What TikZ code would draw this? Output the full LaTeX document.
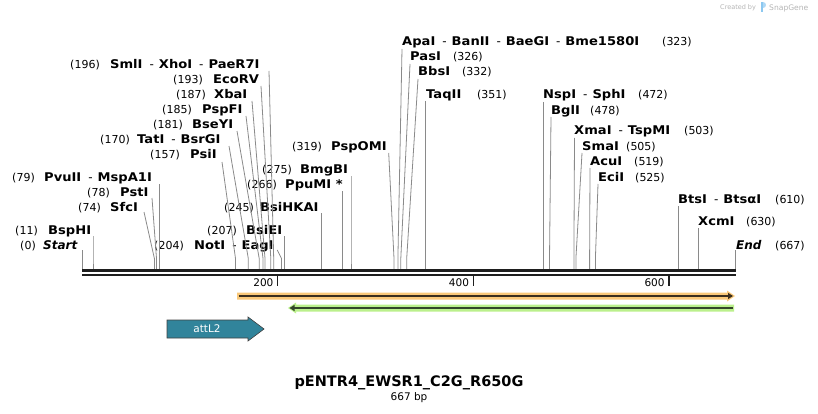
\documentclass[tikz,border=0pt]{standalone}
\usepackage{fontspec}
\setmainfont{DejaVu Sans}[BoldFeatures={FakeStretch=1.09}]
\newfontfamily\titlefont{DejaVu Sans}
\usetikzlibrary{arrows.meta}
\definecolor{leadgray}{HTML}{8A8A8A}
\definecolor{barblack}{HTML}{1E1E1E}
\definecolor{orangeband}{HTML}{F9C87A}
\definecolor{orangeline}{HTML}{3A2E1E}
\definecolor{greenband}{HTML}{BBF08C}
\definecolor{greenline}{HTML}{34452A}
\definecolor{featteal}{HTML}{31849B}
\definecolor{logogray}{HTML}{B4B4B4}
\definecolor{logoblue}{HTML}{8CC8F0}
\newcommand\dsep{\hspace{7pt}{\mdseries -}\hspace{5pt}}
\begin{document}
\begin{tikzpicture}[x=1pt,y=-1pt,
  numtxt/.style={font=\fontsize{11}{13}\selectfont, inner sep=0pt},
  nametxt/.style={font=\fontsize{12}{14}\selectfont\bfseries, inner sep=0pt},
  lead/.style={draw=leadgray, line width=0.8pt},
  barline/.style={draw=barblack, line width=2.4pt},
  tickmark/.style={draw=barblack, line width=1.4pt},
  ticktxt/.style={font=\fontsize{10.5}{12}\selectfont, inner sep=0pt, anchor=base east}]
\useasboundingbox (0,0) rectangle (818,414);
% logo
\node[font=\fontsize{6.5}{8}\selectfont, text=logogray, inner sep=0pt, anchor=base west] (cby) at (720,10) {Created by};
\fill[logoblue] (760.5,2.5) rectangle (763.2,12.5);
\fill[logoblue!70] (763.2,2.5) .. controls (767,2.5) and (767,8) .. (763.2,8) -- cycle;
\node[font=\fontsize{7.6}{9}\selectfont, text=logogray, inner sep=0pt, anchor=base west] (sg) at (769,10.5) {SnapGene};
% left-side labels: number right x / number / name left x / name / y
\foreach \nr/\nm/\nl/\na/\yy [count=\i] in {
  100/196/110/SmlI\dsep XhoI\dsep PaeR7I/65,
  203/193/213/EcoRV/80,
  206/187/214/XbaI/95,
  192/185/202/PspFI/110,
  183/181/192/BseYI/125,
  130/170/137/TatI\dsep BsrGI/140,
  180/157/190/PsiI/155,
  35/79/44/PvuII\dsep MspA1I/177,
  110/78/120/PstI/192,
  101/74/110/SfcI/207,
  38/11/48/BspHI/230,
  36/0/43/\textit{Start}/245,
  184/204/194/NotI\dsep EagI/245,
  237/207/246/BsiEI/230,
  254/245/260/BsiHKAI/207,
  277/266/285/PpuMI */184,
  292/275/300/BmgBI/170,
  322/319/331/PspOMI/147}{
  \node[numtxt, anchor=base east] (ln\i) at (\nr,\yy+4) {(\nm)};
  \node[nametxt, anchor=base west] (la\i) at (\nl,\yy+4) {\na};
}
% right-side labels: name left x / name / number left x / number / y
\foreach \nl/\na/\nr/\nm/\yy [count=\i] in {
  402/ApaI\dsep BanII\dsep BaeGI\dsep Bme1580I/662/323/42,
  410/PasI/453/326/57,
  418/BbsI/462/332/72,
  426/TaqII/477/351/95,
  543/NspI\dsep SphI/638/472/95,
  551/BglI/590/478/111,
  574/XmaI\dsep TspMI/684/503/131,
  582/SmaI/626/505/147,
  590/AcuI/634/519/162,
  598/EciI/635/525/177,
  678/BtsI\dsep BtsαI/775/610/199,
  698/XcmI/746/630/221,
  736/\textit{End}/775/667/245}{
  \node[nametxt, anchor=base west] (ra\i) at (\nl,\yy+4) {\na};
  \node[numtxt, anchor=base west] (rn\i) at (\nr,\yy+4) {(\nm)};
}
% leader lines: id / top x / top y / bottom x
\foreach \id/\tx/\ty/\bx in {
  0/82.5/250/82.5, 11/93/236/93, 74/144/212/154.4, 78/152/198/156.5,
  79/159.3/184/159.3, 157/222/162/235.5, 170/229/146/248.3, 181/237/131/259.2,
  185/246/116/263, 187/252/101/265, 193/261/86/270.8, 196/269/71/273.7,
  204/277.3/250/281.5, 207/284.4/236/284.4, 245/321.6/213/321.6,
  266/342.1/191/342.1, 275/351/176/351, 319/388.7/153/394,
  323/402/49/397.9, 326/410/64/400.8, 332/418/79/406.7, 351/425.3/101/425.3,
  472/543.6/102/543.6, 478/551/117/549.5, 503/574.5/138/573.9, 505/582/153/575.9,
  519/590/168/589.6, 525/598/184/595.4, 610/678.6/206/678.6, 630/698.1/228/698.1,
  667/735/250/735}{
  \coordinate (t\id) at (\tx,\ty);
  \coordinate (k\id) at (\bx,258.5);
  \coordinate (s\id) at (\bx,269.5);
  \draw[lead] (t\id) -- (k\id) -- (s\id);
}
% backbone
\coordinate (barL) at (82,270.6);
\coordinate (barR) at (736,270.6);
\coordinate (barL2) at (82,274.9);
\coordinate (barR2) at (736,274.9);
\draw[barline] (barL) -- (barR);
\draw[barline] (barL2) -- (barR2);
% ticks
\foreach \tx/\tl in {277.6/200, 473.2/400, 668.8/600}{
  \coordinate (ta\tl) at (\tx,276);
  \coordinate (tb\tl) at (\tx,286);
  \draw[tickmark] (ta\tl) -- (tb\tl);
  \node[ticktxt] (tl\tl) at (\tx-4,286.5) {\tl};
}
% orange feature (forward)
\fill[orangeband] (237,292.5) -- (727,292.5) -- (727,290.5) -- (735,296) -- (727,301.5) -- (727,299.5) -- (237,299.5) -- cycle;
\coordinate (oa) at (238.5,296);
\coordinate (ob) at (733,296);
\draw[orangeline, line width=1.6pt, -{Triangle[length=5pt,width=6pt]}] (oa) -- (ob);
% green feature (reverse)
\fill[greenband] (734,304.5) -- (296,304.5) -- (296,302.5) -- (288,308) -- (296,313.5) -- (296,311.5) -- (734,311.5) -- cycle;
\coordinate (ga) at (733,308);
\coordinate (gb) at (289.5,308);
\draw[greenline, line width=1.6pt, -{Triangle[length=5pt,width=6pt]}] (ga) -- (gb);
% attL2
\draw[fill=featteal, draw=black!75, line width=0.6pt] (167,320) -- (248,320) -- (248,317) -- (264,329) -- (248,341) -- (248,338) -- (167,338) -- cycle;
\node[font=\fontsize{10.5}{12}\selectfont, text=white, inner sep=0pt] (attl2) at (207,329) {attL2};
% title
\node[font=\titlefont\fontsize{14.5}{16}\selectfont\bfseries, inner sep=0pt] (title) at (409,383) {pENTR4\_EWSR1\_C2G\_R650G};
\node[font=\fontsize{10.5}{12}\selectfont, inner sep=0pt] (size) at (409,398) {667 bp};
\end{tikzpicture}
\end{document}
